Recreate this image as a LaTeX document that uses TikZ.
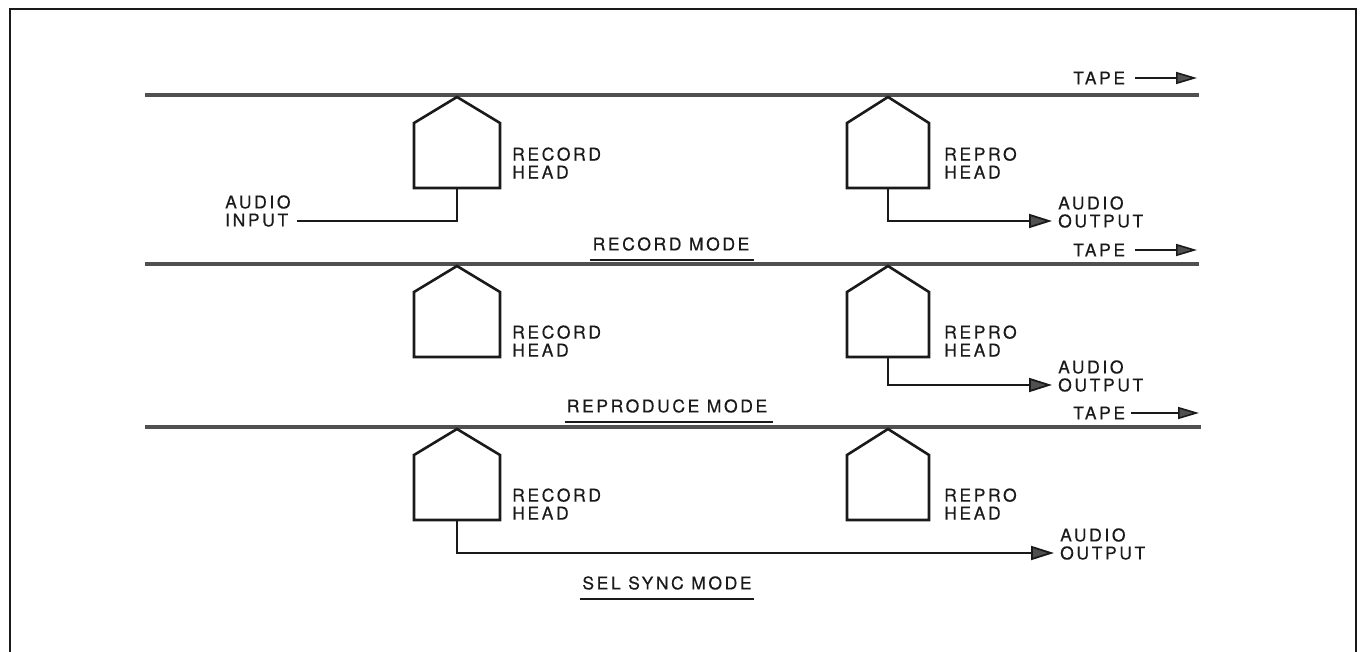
\documentclass[tikz,border=0pt]{standalone}
\usepackage{fontspec}
\setmainfont{TeX Gyre Heros}[LetterSpace=15,FakeBold=0.4]
\usetikzlibrary{arrows.meta}
\definecolor{tapegray}{HTML}{505050}
\definecolor{ink}{HTML}{1A1A1A}
\tikzset{
  tapeline/.style={line width=4.5pt, draw=tapegray},
  headshape/.style={line width=2.6pt, draw=ink, line join=miter},
  wire/.style={line width=1.8pt, draw=ink},
  underl/.style={line width=2.4pt, draw=ink},
  outarrow/.style={line width=1.8pt, draw=ink, -{Triangle[length=23pt,width=14pt,fill=tapegray]}},
  tapearrow/.style={line width=1.6pt, draw=ink, -{Triangle[length=21pt,width=12pt,fill=tapegray]}},
  lbl/.style={font=\fontsize{17.5}{18}\selectfont, inner sep=0pt, align=left, anchor=west, text=ink},
  modelbl/.style={font=\fontsize{17.5}{18}\selectfont, inner sep=0pt, text=ink},
  frame/.style={line width=2.2pt, draw=ink}
}
\newcommand{\myhead}[4]{% name, apex x, tape y, half width
  \draw[headshape] (#2-#4,#3+28) -- (#2,#3+2) -- (#2+#4,#3+28) -- (#2+#4,#3+93) -- (#2-#4,#3+93) -- cycle;
  \coordinate (#1) at (#2,#3+93);
}
\begin{document}
\begin{tikzpicture}[x=1pt,y=-1pt]
\useasboundingbox (0,0) rectangle (1361,652);
% frame (open at bottom)
\draw[frame] (10,652) -- (10,9) -- (1356,9) -- (1356,652);

% ---------- Row 1: RECORD MODE ----------
\draw[tapeline] (145,95) -- (1199,95);
\myhead{rh1}{457}{95}{43}
\myhead{ph1}{888}{95}{41}
\node[lbl] (rl1) at (512,163) {RECORD\\HEAD};
\node[lbl] (pl1) at (944,163) {REPRO\\HEAD};
\node[lbl] (ai1) at (225,211) {AUDIO\\INPUT};
\coordinate (ai1e) at (297,221);
\draw[wire] (ai1e) -- (457,221) -- (rh1);
\node[lbl] (ao1) at (1058,212) {AUDIO\\OUTPUT};
\draw[outarrow] (ph1) -- (888,221) -- ([xshift=-6pt]ao1.west |- 0,221);
\node[lbl] (tp1) at (1073,78) {TAPE};
\coordinate (ta1) at (1197,78);
\draw[tapearrow] (tp1.east) ++(10,0) -- (ta1);
\node[modelbl] (m1) at (671,244) {RECORD MODE};
\draw[underl] ([xshift=-2pt,yshift=-9pt]m1.south west) -- ([xshift=4pt,yshift=-9pt]m1.south east);

% ---------- Row 2: REPRODUCE MODE ----------
\draw[tapeline] (145,264) -- (1199,264);
\myhead{rh2}{457}{264}{43}
\myhead{ph2}{888}{264}{41}
\node[lbl] (rl2) at (512,341) {RECORD\\HEAD};
\node[lbl] (pl2) at (944,341) {REPRO\\HEAD};
\node[lbl] (ao2) at (1058,376) {AUDIO\\OUTPUT};
\draw[outarrow] (ph2) -- (888,385) -- ([xshift=-6pt]ao2.west |- 0,385);
\node[lbl] (tp2) at (1073,250) {TAPE};
\coordinate (ta2) at (1197,250);
\draw[tapearrow] (tp2.east) ++(10,0) -- (ta2);
\node[modelbl] (m2) at (667,406) {REPRODUCE MODE};
\draw[underl] ([xshift=-2pt,yshift=-9pt]m2.south west) -- ([xshift=6pt,yshift=-9pt]m2.south east);

% ---------- Row 3: SEL SYNC MODE ----------
\draw[tapeline] (145,427) -- (1201,427);
\myhead{rh3}{457}{427}{43}
\myhead{ph3}{888}{427}{41}
\node[lbl] (rl3) at (512,504) {RECORD\\HEAD};
\node[lbl] (pl3) at (944,504) {REPRO\\HEAD};
\node[lbl] (ao3) at (1060,544) {AUDIO\\OUTPUT};
\draw[outarrow] (rh3) -- (457,553) -- ([xshift=-6pt]ao3.west |- 0,553);
\node[lbl] (tp3) at (1073,413) {TAPE};
\coordinate (ta3) at (1199,413);
\draw[tapearrow] (tp3.east) ++(6,0) -- (ta3);
\node[modelbl] (m3) at (667,583) {SEL SYNC MODE};
\draw[underl] ([xshift=-2pt,yshift=-9pt]m3.south west) -- ([xshift=2pt,yshift=-9pt]m3.south east);
\end{tikzpicture}
\end{document}
